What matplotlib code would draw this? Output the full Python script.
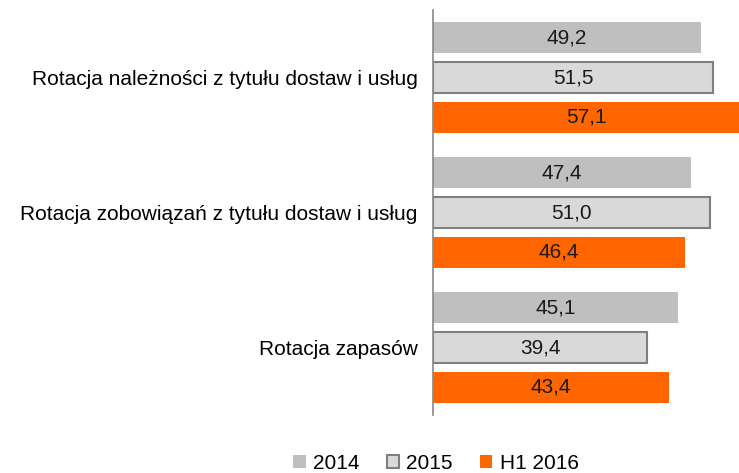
import matplotlib
matplotlib.use("Agg")
import matplotlib.pyplot as plt
import numpy as np

plt.rcParams['font.family'] = ['Liberation Sans', 'DejaVu Sans']

"""Chart data"""
categories = ["Rotacja należności z tytułu dostaw i usług",
              "Rotacja zobowiązań z tytułu dostaw i usług",
              "Rotacja zapasów"]
series_names = ["2014", "2015", "H1 2016"]
v2014 = [49.2, 47.4, 45.1]
v2015 = [51.5, 51.0, 39.4]
vh1 = [57.1, 46.4, 43.4]

"""Styles"""
faces = ["#BFBFBF", "#D9D9D9", "#FF6600"]
edges = ["#BFBFBF", "#7F7F7F", "#FF6600"]
lws = [0, 1.5, 0]

fig = plt.figure(figsize=(7.39, 4.73), dpi=100)
ax = fig.add_axes([433/739, 58/473, 1 - 433/739, 405/473])

XMAX = 56.25
y = np.arange(len(categories))
offsets = [-0.296, 0.0, 0.296]
height = 0.23

for vals, off, fc, ec, lw, name in zip([v2014, v2015, vh1], offsets, faces, edges, lws, series_names):
    bars = ax.barh(y + off, vals, height=height, color=fc, edgecolor=ec, linewidth=lw, label=name)
    for b, v in zip(bars, vals):
        ax.text(min(v, XMAX) / 2, b.get_y() + b.get_height() / 2,
                f"{v:.1f}".replace(".", ","), ha="center", va="center", fontsize=15, color="#1a1a1a")

ax.set_xlim(0, XMAX)
ax.set_ylim(2.5, -0.5)
ax.set_xticks([])
ax.set_yticks(y)
ax.set_yticklabels(categories, fontsize=15)
ax.tick_params(axis="y", length=0, pad=11)
for s in ["top", "right", "bottom"]:
    ax.spines[s].set_visible(False)
ax.spines["left"].set_color("#888888")
ax.spines["left"].set_linewidth(1.2)

fig.legend(loc="center", bbox_to_anchor=(436/739, 1 - 463/473), ncol=3, frameon=False,
           fontsize=15, handlelength=0.6, handleheight=0.6, handletextpad=0.35, columnspacing=1.3)

fig.savefig("out.png", dpi=100)
